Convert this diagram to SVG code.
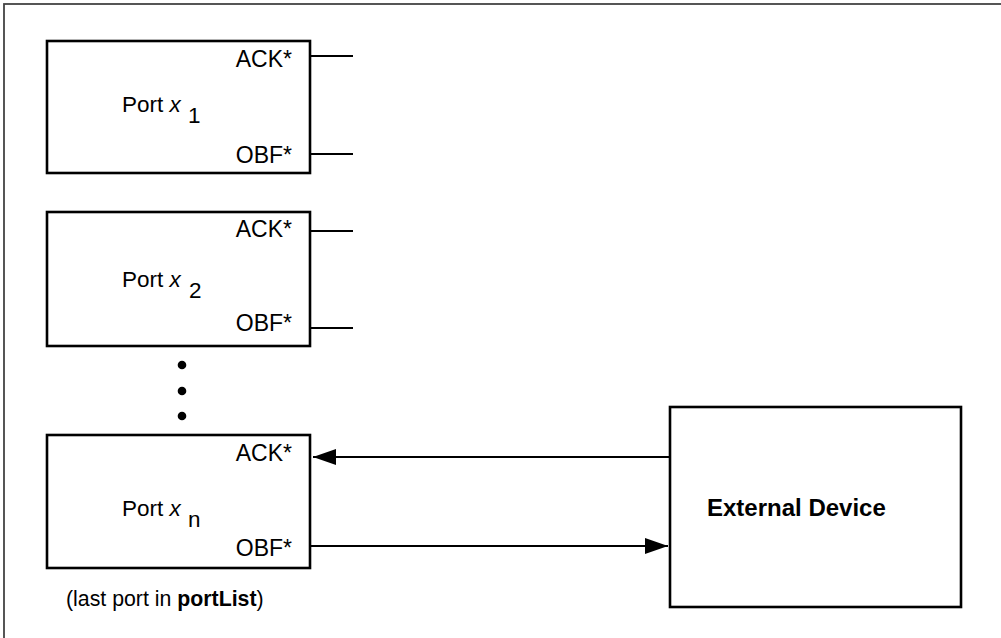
<svg xmlns="http://www.w3.org/2000/svg" width="1001" height="638" viewBox="0 0 1001 638">
<defs>
<style>
.box{fill:#fff;stroke:#000;stroke-width:2.6}
.ln{stroke:#000;stroke-width:2.2;fill:none}
.t{font-family:"Liberation Sans",Arial,sans-serif;font-size:22.5px;fill:#000}
.s{font-size:23px}
.r{text-anchor:end}
.i{font-style:italic}
.b{font-weight:bold}
.ext{font-size:24px}
.note{font-size:21.3px}
</style>
<marker id="ah" viewBox="0 0 23 16" refX="23" refY="8" markerWidth="23" markerHeight="16" markerUnits="userSpaceOnUse" orient="auto">
<path d="M0,0 L23,8 L0,16 Z" fill="#000"/>
</marker>
</defs>
<rect x="0" y="0" width="1001" height="638" fill="#fff"/>
<rect x="4" y="4" width="1010" height="650" fill="none" stroke="#444" stroke-width="1.8"/>
<g id="port1">
<rect class="box" x="47" y="41" width="263" height="132"/>
<text class="t" x="122" y="112">Port <tspan class="i">x</tspan></text>
<text class="t" x="188" y="123">1</text>
<text class="t s r" x="292" y="67">ACK*</text>
<text class="t s r" x="292" y="163">OBF*</text>
</g>
<g id="port2">
<rect class="box" x="47" y="212" width="263" height="134"/>
<text class="t" x="122" y="287">Port <tspan class="i">x</tspan></text>
<text class="t" x="189" y="298">2</text>
<text class="t s r" x="292" y="237">ACK*</text>
<text class="t s r" x="292" y="331">OBF*</text>
</g>
<g id="ellipsis">
<circle cx="182" cy="365" r="4.3"/>
<circle cx="182" cy="391" r="4.3"/>
<circle cx="182" cy="416" r="4.3"/>
</g>
<g id="portn">
<rect class="box" x="47" y="435" width="263" height="133"/>
<text class="t" x="122" y="516">Port <tspan class="i">x</tspan></text>
<text class="t" x="188" y="527">n</text>
<text class="t s r" x="292" y="461">ACK*</text>
<text class="t s r" x="292" y="556">OBF*</text>
<text class="t note" x="66" y="606">(last port in <tspan class="b">portList</tspan>)</text>
</g>
<g id="external">
<rect class="box" x="670" y="407" width="291" height="200"/>
<text class="t b ext" x="707" y="516">External Device</text>
</g>
<g id="connectors">
<line class="ln" x1="310" y1="56" x2="353" y2="56"/>
<line class="ln" x1="310" y1="154" x2="353" y2="154"/>
<line class="ln" x1="310" y1="231" x2="353" y2="231"/>
<line class="ln" x1="310" y1="328" x2="353" y2="328"/>
<line class="ln" x1="670" y1="457" x2="313" y2="457" marker-end="url(#ah)"/>
<line class="ln" x1="310" y1="546" x2="668" y2="546" marker-end="url(#ah)"/>
</g>
</svg>
